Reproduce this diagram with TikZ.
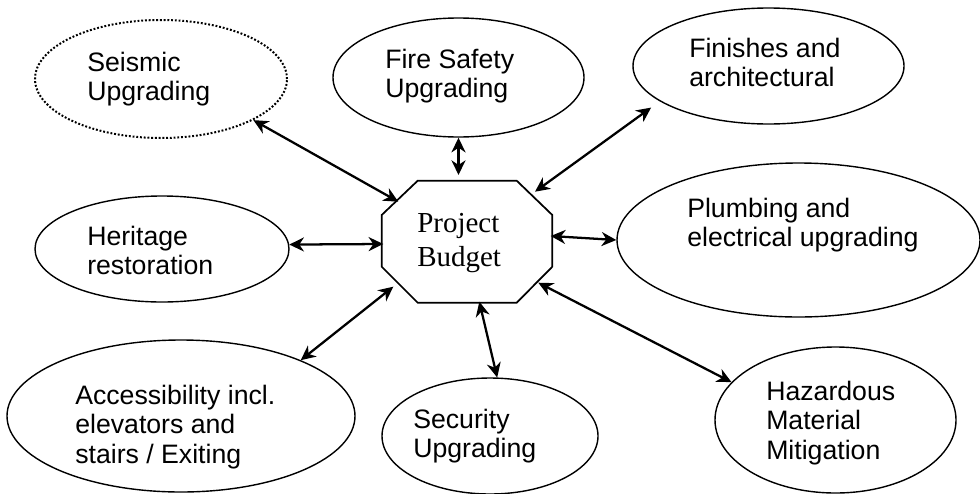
\documentclass[tikz,border=0pt]{standalone}
\usepackage{fontspec}
\setmainfont{Liberation Sans}
\newfontfamily\pbserif{Liberation Serif}
\usetikzlibrary{arrows.meta,shapes.geometric}
\begin{document}
\begin{tikzpicture}[x=0.75pt,y=-0.75pt,
  bubble/.style={draw,ellipse,line width=1.05pt,inner sep=0pt},
  lbl/.style={anchor=base west,align=left,inner sep=0pt,font=\fontsize{20pt}{22.1pt}\selectfont},
  pblbl/.style={anchor=base west,align=left,inner sep=0pt,font=\pbserif\fontsize{21.75pt}{25.5pt}\selectfont},
  conn/.style={<->,line width=1.7pt,>={Stealth[length=11pt,width=10.5pt,inset=3.5pt]}},
  octline/.style={line width=1.3pt,line join=miter}]
\useasboundingbox (0,0) rectangle (980,493);

% ellipses
\node[bubble,dash pattern=on 1.4pt off 1.4pt,line width=1.5pt,minimum width=189pt,minimum height=88.5pt] (seis) at (161,79) {};
\node[bubble,minimum width=188.25pt,minimum height=89.25pt] (fire) at (458.5,77.5) {};
\node[bubble,minimum width=203.25pt,minimum height=87pt] (fin) at (768.5,66) {};
\node[bubble,minimum width=190.5pt,minimum height=79.5pt] (her) at (162,249) {};
\node[bubble,minimum width=272.25pt,minimum height=115.5pt] (plumb) at (798.5,240) {};
\node[bubble,minimum width=261pt,minimum height=114pt] (acc) at (181,416) {};
\node[bubble,minimum width=162pt,minimum height=87pt] (sec) at (490,436) {};
\node[bubble,minimum width=180.75pt,minimum height=109.5pt] (haz) at (835.5,420) {};

% labels (anchored at the baseline of the last line)
\node[lbl] (seist) at (87,100.5) {Seismic\\Upgrading};
\node[lbl] (firet) at (385,97.5) {Fire Safety\\Upgrading};
\node[lbl] (fint) at (689,86.5) {Finishes and\\architectural};
\node[lbl] (hert) at (87,274.5) {Heritage\\restoration};
\node[lbl] (plumbt) at (687,246.5) {Plumbing and\\electrical upgrading};
\node[lbl] (acct) at (75,463) {Accessibility incl.\\elevators and\\stairs / Exiting};
\node[lbl] (sect) at (413,457.5) {Security\\Upgrading};
\node[lbl] (hazt) at (766,459) {Hazardous\\Material\\Mitigation};

% octagon
\coordinate (o1) at (417.7,180.7);
\coordinate (o2) at (516.7,180.7);
\coordinate (o3) at (552.3,215);
\coordinate (o4) at (552.3,266.7);
\coordinate (o5) at (516.7,302.7);
\coordinate (o6) at (417.7,302.7);
\coordinate (o7) at (381.7,266.7);
\coordinate (o8) at (381.7,215);
\draw[octline] (o1) -- (o2) -- (o3) -- (o4) -- (o5) -- (o6) -- (o7) -- (o8) -- cycle;
\node[pblbl] (pb) at (417,266.7) {Project\\Budget};

% connector ends at the octagon
\coordinate (pSeis) at (398.3,201.7);
\coordinate (pFire) at (458.5,175);
\coordinate (pFin) at (535,191.7);
\coordinate (pHer) at (383.3,244);
\coordinate (pPlumb) at (550.7,236);
\coordinate (pAcc) at (393.3,286.7);
\coordinate (pSec) at (479.3,301.7);
\coordinate (pHaz) at (538.3,282.7);

% connectors
\draw[conn] (seis.-24) -- (pSeis);
\draw[conn] (fire.south) -- (pFire);
\draw[conn,shorten <=8pt] (fin.198) -- (pFin);
\draw[conn] (her.2) -- (pHer);
\draw[conn] (plumb.west) -- (pPlumb);
\draw[conn] (acc.25) -- (pAcc);
\draw[conn] (sec.83) -- (pSec);
\draw[conn] (haz.160) -- (pHaz);
\end{tikzpicture}
\end{document}
